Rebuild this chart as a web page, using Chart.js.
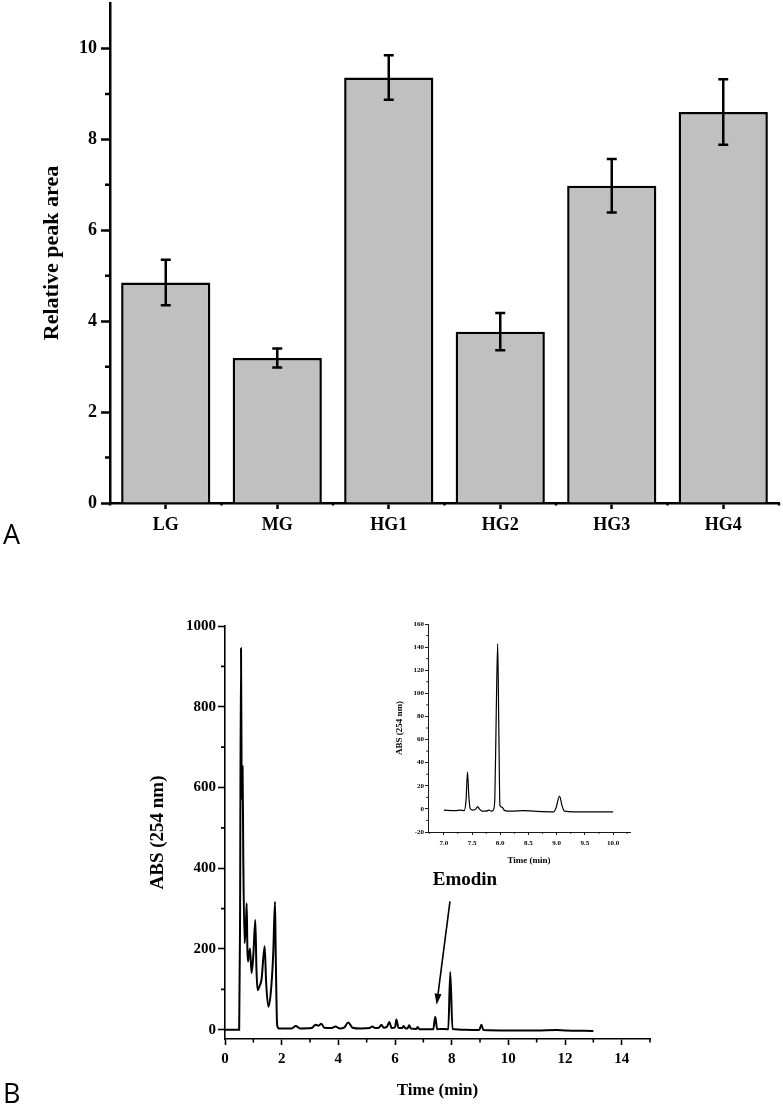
<!DOCTYPE html>
<html><head><meta charset="utf-8">
<script src="https://cdn.jsdelivr.net/npm/chart.js@4.4.1/dist/chart.umd.min.js"></script>
<style>
html,body{margin:0;padding:0;background:#fff;}
body{width:783px;height:1105px;position:relative;overflow:hidden;}
.box{position:absolute;}
.panel{position:absolute;font-family:"Open Sans",sans-serif;font-size:27px;line-height:1;color:#000;}
</style></head><body>
<div class="box" style="left:0;top:0;width:783px;height:550px"><canvas id="barChart"></canvas></div>
<div class="box" style="left:0;top:560px;width:783px;height:545px"><canvas id="mainChart"></canvas></div>
<div class="box" style="left:370px;top:612px;width:270px;height:262px"><canvas id="insetChart"></canvas></div>
<div class="panel" style="left:3px;top:520px">A</div>
<div class="panel" style="left:3px;top:1079px">B</div>
<script>
// ---------- Panel A data ----------
const groups = ['LG', 'MG', 'HG1', 'HG2', 'HG3', 'HG4'];
const peakArea = [4.85, 3.19, 9.36, 3.77, 6.98, 8.60];
const peakAreaErr = [0.50, 0.21, 0.49, 0.41, 0.59, 0.72];
const barYTicks = [0, 2, 4, 6, 8, 10];
const barYMinorTicks = [1, 3, 5, 7, 9];

// ---------- Panel B main chromatogram ----------
const mainTime = [0, 0.50, 0.53, 0.565, 0.585, 0.60, 0.62, 0.645, 0.69, 0.735, 0.765, 0.79, 0.81, 0.88, 0.94, 1.00, 1.07, 1.11, 1.15, 1.22, 1.29, 1.40, 1.45, 1.53, 1.62, 1.70, 1.765, 1.79, 1.84, 1.90,
  2.35, 2.50, 2.65, 3.05, 3.20, 3.30, 3.40, 3.50, 3.75, 3.90, 4.05, 4.20, 4.35, 4.50, 4.80, 5.10, 5.20, 5.30, 5.45, 5.52, 5.60, 5.72, 5.80, 5.88, 6.00, 6.05, 6.12, 6.25, 6.30, 6.38, 6.45, 6.50, 6.56, 6.75, 6.80, 6.86,
  7.35, 7.42, 7.49, 7.60, 7.88, 7.95, 8.03, 8.50, 8.97, 9.05, 9.12, 10.0, 11.0, 11.7, 12.0, 13.0];
const mainAbs = [0, 0, 250, 945, 640, 570, 652, 430, 214, 255, 313, 200, 169, 201, 140, 185, 272, 150, 98, 108, 125, 207, 120, 57, 95, 185, 317, 190, 12, 3,
  3, 9, 3, 4, 12, 10, 15, 5, 4, 8, 3, 5, 18, 5, 3, 4, 8, 4, 6, 12, 5, 8, 19, 4, 6, 25, 5, 4, 9, 3, 4, 11, 3, 2, 7, 1,
  1, 32, 1, 2, 1, 143, 2, 0, -1, 12, -1, -2, -2, -1, -2, -3];
const mainXTicks = [0, 2, 4, 6, 8, 10, 12, 14];
const mainXMinorTicks = [1, 3, 5, 7, 9, 11, 13, 15];
const mainYTicks = [0, 200, 400, 600, 800, 1000];
const mainYMinorTicks = [100, 300, 500, 700, 900];

// ---------- Panel B inset (7-10 min) ----------
const insetTime = [7.00, 7.20, 7.30, 7.36, 7.395, 7.42, 7.445, 7.47, 7.52, 7.57, 7.60, 7.63, 7.68, 7.75, 7.80, 7.84, 7.88, 7.905, 7.93, 7.955, 7.975, 7.995, 8.03, 8.08, 8.20, 8.40, 8.60, 8.95, 8.99, 9.05, 9.10, 9.14, 9.30, 9.60, 10.00];
const insetAbs = [-1, -1.5, -1, -1.5, 8, 32, 10, 0, -1, 0, 2, 0, -2, -2, -1, -2, -1, 10, 85, 143, 70, 3, 1.5, -1.5, -2, -1.5, -2, -2.5, 1, 11, 2, -2, -2.5, -2.5, -2.5];
const insetXTicks = [7.0, 7.5, 8.0, 8.5, 9.0, 9.5, 10.0];
const insetXMinorTicks = [6.75, 7.25, 7.75, 8.25, 8.75, 9.25, 9.75, 10.25];
const insetYTicks = [-20, 0, 20, 40, 60, 80, 100, 120, 140, 160];
const insetYMinorTicks = [-10, 10, 30, 50, 70, 90, 110, 130, 150];

// ---------- annotation ----------
const emodinLabel = 'Emodin';
const emodinLabelAt = {x: 8.47, y: 371};
const emodinArrowFrom = {x: 7.94, y: 318};
const emodinArrowTo = {x: 7.47, y: 62};

const SERIF = "'Liberation Serif', 'Times New Roman', serif";
Chart.defaults.font.family = SERIF;
Chart.defaults.color = '#000';

const minorTickPlugin = {
  id: 'minorTicks',
  afterDraw(chart, args, opts) {
    const ctx = chart.ctx;
    ctx.save();
    ctx.strokeStyle = '#000';
    (opts.axes || []).forEach(a => {
      const sc = chart.scales[a.id];
      ctx.lineWidth = a.width;
      ctx.beginPath();
      a.values.forEach(v => {
        const p = sc.getPixelForValue(v);
        if (sc.isHorizontal()) { ctx.moveTo(p, sc.top); ctx.lineTo(p, sc.top + a.len); }
        else { ctx.moveTo(sc.right, p); ctx.lineTo(sc.right - a.len, p); }
      });
      ctx.stroke();
    });
    ctx.restore();
  }
};

const errorBarPlugin = {
  id: 'errorBars',
  afterDatasetsDraw(chart, args, opts) {
    const ctx = chart.ctx, y = chart.scales.y;
    const meta = chart.getDatasetMeta(0);
    const vals = chart.data.datasets[0].data;
    ctx.save();
    ctx.strokeStyle = '#000';
    ctx.lineWidth = opts.width;
    meta.data.forEach((bar, i) => {
      const v = vals[i], e = opts.errors[i];
      const yt = y.getPixelForValue(v + e), yb = y.getPixelForValue(v - e);
      ctx.beginPath();
      ctx.moveTo(bar.x, yt); ctx.lineTo(bar.x, yb);
      ctx.moveTo(bar.x - opts.cap, yt); ctx.lineTo(bar.x + opts.cap, yt);
      ctx.moveTo(bar.x - opts.cap, yb); ctx.lineTo(bar.x + opts.cap, yb);
      ctx.stroke();
    });
    ctx.restore();
  }
};

const arrowLabelPlugin = {
  id: 'arrowLabel',
  afterDraw(chart, args, opts) {
    const ctx = chart.ctx, xs = chart.scales.x, ys = chart.scales.y;
    const x1 = xs.getPixelForValue(opts.from.x), y1 = ys.getPixelForValue(opts.from.y);
    const x2 = xs.getPixelForValue(opts.to.x), y2 = ys.getPixelForValue(opts.to.y);
    ctx.save();
    ctx.strokeStyle = '#000'; ctx.fillStyle = '#000';
    ctx.lineWidth = 1.6;
    const ang = Math.atan2(y2 - y1, x2 - x1);
    const hl = 11, hw = 3.5;
    const bx = x2 - hl * Math.cos(ang), by = y2 - hl * Math.sin(ang);
    ctx.beginPath(); ctx.moveTo(x1, y1); ctx.lineTo(bx, by); ctx.stroke();
    ctx.beginPath();
    ctx.moveTo(x2, y2);
    ctx.lineTo(bx + hw * Math.sin(ang), by - hw * Math.cos(ang));
    ctx.lineTo(bx - hw * Math.sin(ang), by + hw * Math.cos(ang));
    ctx.closePath(); ctx.fill();
    ctx.font = 'bold 19px ' + SERIF;
    ctx.textAlign = 'center'; ctx.textBaseline = 'middle';
    ctx.fillText(opts.text, xs.getPixelForValue(opts.at.x), ys.getPixelForValue(opts.at.y));
    ctx.restore();
  }
};

function fixedTicks(list) { return s => { s.ticks = list.map(v => ({value: v})); }; }
function fitWidth(w) { return s => { s.width = w; s.paddingTop = 0; s.paddingBottom = 0; }; }
function fitHeight(h) { return s => { s.height = h; s.paddingLeft = 0; s.paddingRight = 0; }; }
const plain = v => String(v);

// ---------- Panel A ----------
new Chart(document.getElementById('barChart'), {
  type: 'bar',
  data: {
    labels: groups,
    datasets: [{
      data: peakArea,
      backgroundColor: '#c0c0c0',
      borderColor: '#000',
      borderWidth: 2.5,
      borderSkipped: 'bottom',
      barPercentage: 0.8,
      categoryPercentage: 1.0
    }]
  },
  options: {
    responsive: true, maintainAspectRatio: false, animation: false,
    layout: {padding: {top: 3, right: 4, left: 0, bottom: 0}},
    plugins: {
      legend: {display: false}, tooltip: {enabled: false},
      errorBars: {errors: peakAreaErr, cap: 5, width: 2.5},
      minorTicks: {axes: [
        {id: 'x', values: [-0.5, 0.5, 1.5, 2.5, 3.5, 4.5, 5.5], len: 2.5, width: 2.5},
        {id: 'y', values: barYMinorTicks, len: 5, width: 2.5}
      ]}
    },
    scales: {
      x: {
        offset: true,
        grid: {display: true, offset: false, drawOnChartArea: false, drawTicks: true, tickLength: 6, tickWidth: 2.5, tickColor: '#000'},
        border: {display: true, color: '#000', width: 2.5},
        ticks: {color: '#000', font: {size: 18, weight: 'bold'}, padding: 6, maxRotation: 0, autoSkip: false},
        afterFit: fitHeight(47)
      },
      y: {
        min: 0, max: 11,
        afterBuildTicks: fixedTicks(barYTicks),
        grid: {display: true, drawOnChartArea: false, drawTicks: true, tickLength: 9, tickWidth: 2.5, tickColor: '#000'},
        border: {display: true, color: '#000', width: 2.5},
        ticks: {color: '#000', font: {size: 18, weight: 'bold'}, padding: 4, callback: plain},
        title: {display: true, text: 'Relative peak area', color: '#000', font: {size: 22, weight: 'bold'}, padding: {top: 39, bottom: 0}},
        afterFit: fitWidth(110)
      }
    }
  },
  plugins: [errorBarPlugin, minorTickPlugin]
});

// ---------- Panel B main ----------
new Chart(document.getElementById('mainChart'), {
  type: 'line',
  data: {
    datasets: [{
      data: mainTime.map((t, i) => ({x: t, y: mainAbs[i]})),
      borderColor: '#000', borderWidth: 2, pointRadius: 0, fill: false,
      cubicInterpolationMode: 'monotone'
    }]
  },
  options: {
    responsive: true, maintainAspectRatio: false, animation: false,
    layout: {padding: {top: 66, right: 133, left: 0, bottom: 0}},
    plugins: {
      legend: {display: false}, tooltip: {enabled: false},
      minorTicks: {axes: [
        {id: 'x', values: mainXMinorTicks, len: 3.5, width: 1.6},
        {id: 'y', values: mainYMinorTicks, len: 4, width: 1.6}
      ]},
      arrowLabel: {text: emodinLabel, at: emodinLabelAt, from: emodinArrowFrom, to: emodinArrowTo}
    },
    scales: {
      x: {
        type: 'linear', min: 0, max: 15,
        afterBuildTicks: fixedTicks(mainXTicks),
        grid: {display: true, drawOnChartArea: false, drawTicks: true, tickLength: 6, tickWidth: 1.6, tickColor: '#000'},
        border: {display: true, color: '#000', width: 1.6},
        ticks: {color: '#000', font: {size: 15, weight: 'bold'}, padding: 5, maxRotation: 0, callback: plain},
        title: {display: true, text: 'Time (min)', color: '#000', font: {size: 17, weight: 'bold'}, padding: {top: 0, bottom: 3.8}},
        afterFit: fitHeight(66)
      },
      y: {
        type: 'linear', min: -23, max: 1000,
        afterBuildTicks: fixedTicks(mainYTicks),
        grid: {display: true, drawOnChartArea: false, drawTicks: true, tickLength: 7, tickWidth: 1.6, tickColor: '#000'},
        border: {display: true, color: '#000', width: 1.6},
        ticks: {color: '#000', font: {size: 15, weight: 'bold'}, padding: 2, callback: plain},
        title: {display: true, text: 'ABS (254 nm)', color: '#000', font: {size: 19, weight: 'bold'}, padding: {top: 146.6, bottom: 0}},
        afterFit: fitWidth(225)
      }
    }
  },
  plugins: [minorTickPlugin, arrowLabelPlugin]
});

// ---------- Panel B inset ----------
new Chart(document.getElementById('insetChart'), {
  type: 'line',
  data: {
    datasets: [{
      data: insetTime.map((t, i) => ({x: t, y: insetAbs[i]})),
      borderColor: '#000', borderWidth: 1.2, pointRadius: 0, fill: false,
      cubicInterpolationMode: 'monotone'
    }]
  },
  options: {
    responsive: true, maintainAspectRatio: false, animation: false,
    layout: {padding: {top: 12, right: 10, left: 0, bottom: 0}},
    plugins: {
      legend: {display: false}, tooltip: {enabled: false},
      minorTicks: {axes: [
        {id: 'x', values: insetXMinorTicks, len: 1.8, width: 0.9},
        {id: 'y', values: insetYMinorTicks, len: 1.8, width: 0.9}
      ]}
    },
    scales: {
      x: {
        type: 'linear', min: 6.72, max: 10.3,
        afterBuildTicks: fixedTicks(insetXTicks),
        grid: {display: true, drawOnChartArea: false, drawTicks: true, tickLength: 3, tickWidth: 0.9, tickColor: '#000'},
        border: {display: true, color: '#000', width: 0.9},
        ticks: {color: '#000', font: {size: 7, weight: 'bold'}, padding: 4, maxRotation: 0, callback: v => Number(v).toFixed(1)},
        title: {display: true, text: 'Time (min)', color: '#000', font: {size: 9, weight: 'bold'}, padding: {top: 0, bottom: 7.6}},
        afterFit: fitHeight(42)
      },
      y: {
        type: 'linear', min: -20, max: 160,
        afterBuildTicks: fixedTicks(insetYTicks),
        grid: {display: true, drawOnChartArea: false, drawTicks: true, tickLength: 3, tickWidth: 0.9, tickColor: '#000'},
        border: {display: true, color: '#000', width: 0.9},
        ticks: {color: '#000', font: {size: 7, weight: 'bold'}, padding: 1, callback: plain},
        title: {display: true, text: 'ABS (254 nm)', color: '#000', font: {size: 9, weight: 'bold'}, padding: {top: 24.6, bottom: 0}},
        afterFit: fitWidth(58)
      }
    }
  },
  plugins: [minorTickPlugin]
});
</script>
</body></html>
